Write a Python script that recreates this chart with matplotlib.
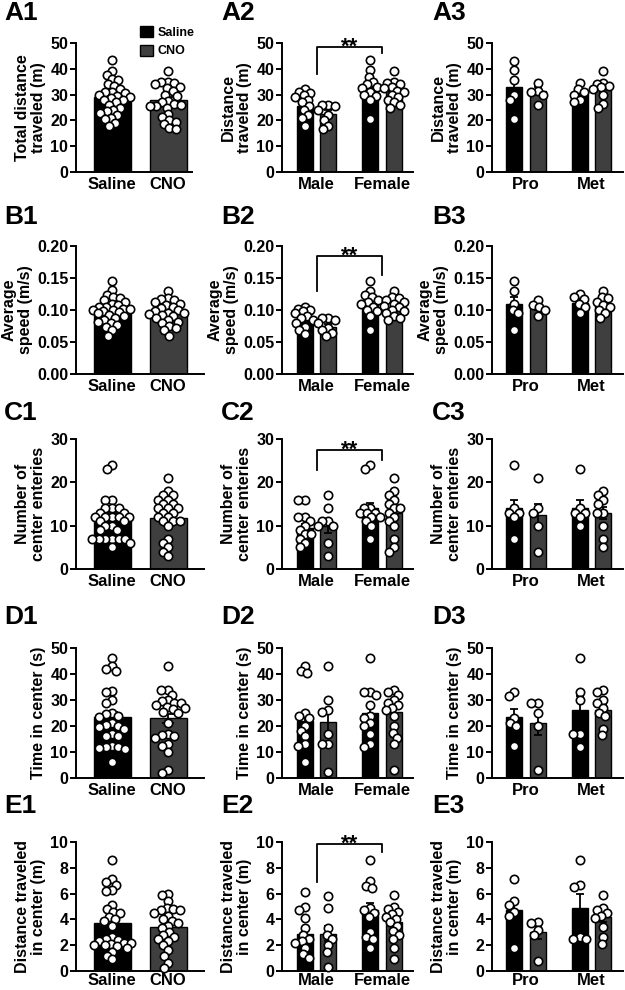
import numpy as np
import matplotlib
matplotlib.use('Agg')
import matplotlib.pyplot as plt
from matplotlib.patches import Patch
from matplotlib.ticker import FormatStrFormatter, MultipleLocator

plt.rcParams['font.family'] = ['Liberation Sans', 'DejaVu Sans']
plt.rcParams['font.weight'] = 'bold'

# ---------------- data ----------------
treat_labels = ['Saline', 'CNO']
sex_labels = ['Male', 'Female']
cycle_labels = ['Pro', 'Met']

# Row A: distance traveled (m)
A1_saline = [43.5, 39, 37.5, 36, 35.5, 34, 33.5, 32, 31, 31, 30.5, 30, 29.5, 29, 28.5, 28, 28, 27, 26, 25,
             24, 23.5, 23, 22, 21, 20.5, 19, 18]
A1_cno = [39, 35, 35, 34.5, 34, 33, 32.5, 31.5, 30, 29.5, 27.5, 27, 26.5, 26, 25.5, 25.5, 25, 22.5, 21.5, 20,
          19.5, 18.5, 17, 16.5]
A1_mean = [29.0, 28.0]
A1_sem = [1.1, 1.2]
A2_pts = [[32, 31, 30.5, 30, 29, 28, 27, 25.5, 24, 22, 21, 18],
          [26, 26, 25.5, 24, 22, 20, 18, 16.5],
          [43.5, 39.5, 37, 35, 34, 33, 32.5, 31, 30, 29.5, 28, 20.5],
          [39, 35, 34.5, 34, 33, 32.5, 31.5, 31, 30, 29, 28, 27, 26, 25]]
A2_mean = [25.5, 22.5, 33.0, 31.5]
A2_sem = [1.5, 1.5, 1.8, 1.0]
A3_pts = [[43, 39.5, 35.5, 30, 28, 20.5],
          [34.5, 31.5, 31, 30, 26],
          [34.5, 32, 31, 30, 28, 27],
          [39, 34.5, 34, 33.5, 33, 32, 30, 26.5, 25]]
A3_mean = [33.0, 31.5, 31.0, 32.0]
A3_sem = [3.0, 1.5, 1.2, 1.5]

# Row B: average speed (m/s)
B1_saline = [0.145, 0.131, 0.124, 0.12, 0.118, 0.115, 0.112, 0.11, 0.108, 0.105, 0.104, 0.102, 0.101, 0.1,
             0.1, 0.098, 0.097, 0.095, 0.092, 0.09, 0.088, 0.085, 0.082, 0.08, 0.076, 0.073, 0.068, 0.06]
B1_cno = [0.13, 0.118, 0.117, 0.115, 0.113, 0.11, 0.108, 0.105, 0.103, 0.1, 0.098, 0.096, 0.095, 0.094,
          0.092, 0.09, 0.088, 0.085, 0.082, 0.08, 0.075, 0.072, 0.068, 0.06]
B1_mean = [0.097, 0.093]
B1_sem = [0.004, 0.004]
B2_pts = [[0.105, 0.102, 0.1, 0.098, 0.095, 0.09, 0.087, 0.085, 0.08, 0.073, 0.068, 0.062],
          [0.088, 0.087, 0.085, 0.08, 0.072, 0.068, 0.064, 0.06],
          [0.145, 0.13, 0.123, 0.12, 0.115, 0.112, 0.11, 0.105, 0.1, 0.098, 0.09, 0.068],
          [0.13, 0.12, 0.118, 0.115, 0.112, 0.11, 0.107, 0.105, 0.1, 0.098, 0.095, 0.09, 0.087, 0.085]]
B2_mean = [0.085, 0.074, 0.110, 0.105]
B2_sem = [0.004, 0.004, 0.006, 0.004]
B3_pts = [[0.145, 0.13, 0.11, 0.1, 0.095, 0.068],
          [0.115, 0.108, 0.105, 0.1, 0.09],
          [0.125, 0.12, 0.117, 0.11, 0.105, 0.095],
          [0.13, 0.12, 0.118, 0.113, 0.108, 0.105, 0.1, 0.095, 0.088]]
B3_mean = [0.109, 0.104, 0.111, 0.107]
B3_sem = [0.011, 0.004, 0.004, 0.005]

# Row C: number of center entries
C1_saline = [24, 23, 16, 16, 14, 14, 14, 13, 13, 12, 12, 12, 12, 12, 11, 11, 10, 10, 9, 9, 7, 7, 7, 7, 7, 7, 6, 5]
C1_cno = [21, 18, 17, 17, 16, 16, 15, 15, 14, 14, 14, 13, 13, 12, 12, 11, 11, 11, 10, 7, 6, 5, 4, 3]
C1_mean = [12.0, 11.8]
C1_sem = [1.0, 1.0]
C2_pts = [[16, 16, 12, 12, 11, 10, 9, 8, 8, 7, 6, 5],
          [17, 14, 11, 11, 10, 10, 6, 3],
          [24, 23, 14, 14, 13, 13, 13, 12, 12, 11, 10, 7],
          [21, 18, 17, 16, 15, 14, 14, 13, 12, 11, 10, 7, 5, 4]]
C2_mean = [9.5, 10.0, 14.0, 13.0]
C2_sem = [1.0, 1.6, 1.3, 1.3]
C3_pts = [[24, 14, 13, 13, 12, 7],
          [21, 14, 13, 10, 4],
          [23, 14, 13, 13, 12, 10],
          [18, 17, 16, 15, 13, 13, 10, 7, 5]]
C3_mean = [14.0, 12.5, 14.0, 13.0]
C3_sem = [2.0, 2.5, 2.0, 1.4]

# Row D: time in center (s)
D1_saline = [46, 43, 42, 41, 33.5, 33, 30, 29, 25, 24.5, 24, 23.5, 21, 20.5, 20, 19.5, 19, 17, 16, 16,
             12.5, 12, 12, 11.5, 11, 6]
D1_cno = [43, 34, 34, 32, 30, 29.5, 29, 29, 28, 27.5, 27, 26.5, 25.5, 25, 21, 17, 16.5, 16, 15.5, 13,
          12.5, 10, 3, 2]
D1_mean = [23.3, 23.0]
D1_sem = [2.0, 1.8]
D2_pts = [[43, 41, 40.5, 25, 24, 23, 20, 18, 16, 13, 12.5, 6],
          [43, 30, 26, 25.5, 17, 13, 13, 2.5],
          [46, 33, 33, 32, 28, 24, 23, 21, 20, 17, 13, 12],
          [34, 33, 32, 30, 29, 28, 27, 26, 24, 20, 17.5, 15.5, 13, 3]]
D2_mean = [22.0, 21.5, 25.0, 25.5]
D2_sem = [3.0, 4.0, 2.7, 2.5]
D3_pts = [[33, 31.5, 23, 21, 20, 12.5],
          [29, 29, 25, 20, 3],
          [46, 33, 30, 17, 17, 12],
          [34, 33, 30, 29, 27, 25, 24, 19, 16.5]]
D3_mean = [23.5, 21.0, 26.0, 26.0]
D3_sem = [3.0, 4.5, 5.5, 2.0]

# Row E: distance traveled in center (m)
E1_saline = [8.6, 7.1, 6.9, 6.7, 6.3, 6.2, 5.1, 4.8, 4.6, 4.5, 4.2, 4.0, 3.9, 3.5, 2.6, 2.5, 2.4, 2.3, 2.2,
             2.2, 2.1, 2.0, 2.0, 1.9, 1.8, 1.5, 1.2, 0.9]
E1_cno = [6.0, 5.9, 5.4, 4.9, 4.8, 4.7, 4.7, 4.5, 4.3, 4.0, 3.9, 3.7, 3.5, 3.3, 3.0, 2.8, 2.6, 2.5, 2.3,
          2.0, 1.6, 1.2, 0.6, 0.2]
E1_mean = [3.7, 3.4]
E1_sem = [0.4, 0.3]
E2_pts = [[6.1, 5.0, 4.7, 4.1, 3.3, 2.8, 2.5, 2.3, 2.2, 1.8, 1.3, 1.0],
          [5.8, 4.9, 3.3, 2.8, 2.5, 2.0, 1.5, 0.3],
          [8.6, 7.0, 6.6, 6.4, 4.9, 4.7, 4.5, 4.2, 3.0, 2.6, 2.5, 1.8],
          [5.9, 5.0, 4.8, 4.6, 4.4, 4.2, 4.0, 3.8, 3.5, 3.1, 2.8, 2.5, 1.8, 0.9]]
E2_mean = [2.9, 2.9, 4.7, 3.8]
E2_sem = [0.5, 0.6, 0.6, 0.4]
E3_pts = [[7.1, 5.4, 5.1, 4.6, 4.3, 1.8],
          [3.8, 3.7, 3.2, 2.8, 0.8],
          [8.6, 6.7, 6.5, 2.6, 2.5, 2.5],
          [5.9, 4.9, 4.7, 4.5, 4.3, 4.1, 3.4, 2.6, 2.1]]
E3_mean = [4.7, 3.0, 4.9, 4.2]
E3_sem = [0.6, 0.5, 1.1, 0.4]

row_ylabels = ['Total distance\ntraveled (m)', 'Distance\ntraveled (m)',
               'Average\nspeed (m/s)', 'Number of\ncenter enteries',
               'Time in center (s)', 'Distance traveled\nin center (m)']
row_ymax = [50, 0.20, 30, 50, 10]
row_ystep = [10, 0.05, 10, 10, 2]
# significance brackets in column 2: (left leg bottom, top, right leg bottom)
sig_brackets = {0: (38, 48.5, 46), 1: (0.13, 0.184, 0.155), 2: (22.8, 27.4, 25.2), 4: (6.9, 9.85, 9.2)}

# ---------------- layout ----------------
W, H = 625, 990
fig = plt.figure(figsize=(W / 100, H / 100), dpi=100)
SAL = '#000000'
CNOC = '#3f3f3f'

row_px = [(43, 172), (246, 374), (439, 569), (648, 778), (842, 971)]
title_y = [13, 217, 413, 617, 806]
col_x = [(76, 204), (282, 413), (492, 623)]
title_x = [4, 221, 432]
row_names = ['A', 'B', 'C', 'D', 'E']

FS_TICK = 11.5
FS_XT = 12
FS_LAB = 11.5


def make_ax(x0, x1, yt, yb):
    return fig.add_axes([x0 / W, 1 - yb / H, (x1 - x0) / W, (yb - yt) / H])


def swarm(ypix, diam, maxoff):
    ypix = np.asarray(ypix, float)
    order = np.argsort(-ypix, kind='stable')
    placed = []
    offs = np.zeros(len(ypix))
    for i in order:
        y = ypix[i]
        cands = [0.0]
        for (px, py) in placed:
            dy = abs(py - y)
            if dy < diam:
                dx = np.sqrt(diam ** 2 - dy ** 2)
                cands += [px + dx, px - dx]
        cands = sorted(cands, key=lambda c: (abs(c), c))
        best = None
        for c in cands:
            if abs(c) > maxoff + 1e-6:
                continue
            if all((c - px) ** 2 + (y - py) ** 2 >= diam ** 2 - 1e-6 for px, py in placed):
                best = c
                break
        if best is None:
            # no free spot inside the allowed band: pick least-overlapping position
            grid = np.linspace(-maxoff, maxoff, 41)
            score = [min([(g - px) ** 2 + (y - py) ** 2 for px, py in placed] + [1e9]) for g in grid]
            best = grid[int(np.argmax(score))]
        offs[i] = best
        placed.append((best, y))
    return offs


def style_ax(ax, r, xlim, xticks, xlabels):
    ax.set_xlim(*xlim)
    ax.set_ylim(0, row_ymax[r])
    for s in ['top', 'right']:
        ax.spines[s].set_visible(False)
    for s in ['left', 'bottom']:
        ax.spines[s].set_linewidth(1.4)
    ax.yaxis.set_major_locator(MultipleLocator(row_ystep[r]))
    if r == 1:
        ax.yaxis.set_major_formatter(FormatStrFormatter('%.2f'))
    ax.tick_params(axis='y', direction='out', length=4, width=1.4, labelsize=FS_TICK, pad=1.5)
    ax.tick_params(axis='x', length=0, labelsize=FS_XT, pad=1.5 if r == 4 else 3.5)
    ax.set_xticks(xticks)
    ax.set_xticklabels(xlabels, fontweight='bold')
    for t in ax.get_yticklabels():
        t.set_fontweight('bold')
    ax.patch.set_alpha(0)


def draw_group(ax, xs, pts_list, means, sems, bw, capsize, diam=6.6):
    colors = [SAL, CNOC] * (len(xs) // 2)
    ax.bar(xs, means, width=bw, color=colors, edgecolor='black', linewidth=1.0, zorder=1)
    ax.errorbar(xs, means, yerr=sems, fmt='none', ecolor='black', elinewidth=1.3,
                capsize=capsize, capthick=1.3, zorder=2)
    x_ppu = ax.transData.transform([[1, 0]])[0][0] - ax.transData.transform([[0, 0]])[0][0]
    maxoff = bw * x_ppu / 2 + 2
    for x, pts in zip(xs, pts_list):
        ypix = ax.transData.transform(np.column_stack([np.zeros(len(pts)), pts]))[:, 1]
        offs = swarm(ypix, diam, maxoff) / x_ppu
        ax.plot(x + offs, pts, 'o', ms=6.0, mfc='white', mec='black', mew=1.2,
                zorder=3, clip_on=False, linestyle='none')


col1_data = [(A1_saline, A1_cno, A1_mean, A1_sem), (B1_saline, B1_cno, B1_mean, B1_sem),
             (C1_saline, C1_cno, C1_mean, C1_sem), (D1_saline, D1_cno, D1_mean, D1_sem),
             (E1_saline, E1_cno, E1_mean, E1_sem)]
col2_data = [(A2_pts, A2_mean, A2_sem), (B2_pts, B2_mean, B2_sem), (C2_pts, C2_mean, C2_sem),
             (D2_pts, D2_mean, D2_sem), (E2_pts, E2_mean, E2_sem)]
col3_data = [(A3_pts, A3_mean, A3_sem), (B3_pts, B3_mean, B3_sem), (C3_pts, C3_mean, C3_sem),
             (D3_pts, D3_mean, D3_sem), (E3_pts, E3_mean, E3_sem)]

off = 0.18
bw2 = 0.25
xs2 = [-off, off, 1 - off, 1 + off]

for r in range(5):
    yt, yb = row_px[r]
    # ---- column 1 ----
    x0, x1 = col_x[0]
    if r == 0:
        x1 = 192
    ax = make_ax(x0, x1, yt, yb)
    style_ax(ax, r, ((x0 - 112) / 56, 1 + (x1 - 168) / 56), [0, 1], treat_labels)
    sal, cno, m, s = col1_data[r]
    draw_group(ax, [0, 1], [sal, cno], m, s, 37 / 56, 4.5)
    ax.set_ylabel(row_ylabels[0] if r == 0 else row_ylabels[r + 1], fontsize=FS_LAB,
                  fontweight='bold', linespacing=1.1, labelpad=3)
    if r == 0:
        handles = [Patch(facecolor=SAL, edgecolor='black'), Patch(facecolor=CNOC, edgecolor='black')]
        ax.legend(handles, treat_labels, loc='upper left', bbox_to_anchor=((140 - x0) / (x1 - x0), 1 + 17 / 129),
                  frameon=False, handlelength=1.0, handleheight=1.0, handletextpad=0.4,
                  labelspacing=0.45, borderpad=0, borderaxespad=0, prop={'weight': 'bold', 'size': 9})

    # ---- column 2 ----
    x0, x1 = col_x[1]
    ax = make_ax(x0, x1, yt, yb)
    style_ax(ax, r, ((x0 - 316.5) / 65.5, 1 + (x1 - 382) / 65.5), [0, 1], sex_labels)
    pts, m, s = col2_data[r]
    draw_group(ax, xs2, pts, m, s, bw2, 3.0)
    ax.set_ylabel(row_ylabels[1] if r == 0 else row_ylabels[r + 1], fontsize=FS_LAB,
                  fontweight='bold', linespacing=1.1, labelpad=3)
    if r in sig_brackets:
        yl, ytop, yr = sig_brackets[r]
        ax.plot([0, 0, 1, 1], [yl, ytop, ytop, yr], color='black', lw=1.3, clip_on=False, zorder=4)
        ax.annotate('**', xy=(0.5, ytop), xytext=(0, -4), textcoords='offset points',
                    ha='center', va='baseline', fontsize=16, fontweight='bold', annotation_clip=False)

    # ---- column 3 ----
    x0, x1 = col_x[2]
    ax = make_ax(x0, x1, yt, yb)
    style_ax(ax, r, ((x0 - 526) / 65.5, 1 + (x1 - 591.5) / 65.5), [0, 1], cycle_labels)
    pts, m, s = col3_data[r]
    draw_group(ax, xs2, pts, m, s, bw2, 3.0)
    ax.set_ylabel(row_ylabels[1] if r == 0 else row_ylabels[r + 1], fontsize=FS_LAB,
                  fontweight='bold', linespacing=1.1, labelpad=3)

    # panel titles
    for c in range(3):
        fig.text(title_x[c] / W, 1 - title_y[r] / H, f'{row_names[r]}{c + 1}', fontsize=19,
                 fontweight='bold', ha='left', va='center')

fig.savefig('out.png', dpi=100, facecolor='white')
